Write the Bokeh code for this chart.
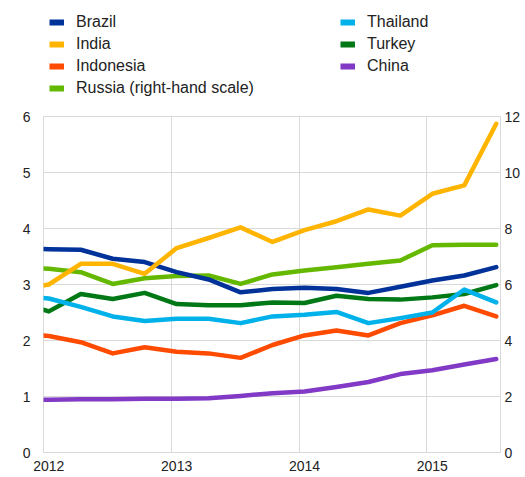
from bokeh.plotting import figure
from bokeh.layouts import column
from bokeh.models import (Range1d, LinearAxis, FixedTicker, NumeralTickFormatter,
                          Legend, LegendItem)
from bokeh.embed import file_html
from bokeh.resources import INLINE

# ---- data (quarterly observations, mid-month of first month of quarter) ----
months = ["2011-10",
          "2012-01", "2012-04", "2012-07", "2012-10",
          "2013-01", "2013-04", "2013-07", "2013-10",
          "2014-01", "2014-04", "2014-07", "2014-10",
          "2015-01", "2015-04", "2015-07"]

brazil    = [3.64, 3.63, 3.62, 3.46, 3.40, 3.22, 3.09, 2.86, 2.92, 2.94, 2.92, 2.85, 2.96, 3.07, 3.16, 3.31]
india     = [2.90, 3.00, 3.37, 3.37, 3.19, 3.65, 3.83, 4.02, 3.76, 3.97, 4.13, 4.34, 4.23, 4.62, 4.77, 5.87]
indonesia = [2.12, 2.08, 1.97, 1.77, 1.88, 1.80, 1.77, 1.69, 1.92, 2.09, 2.18, 2.09, 2.31, 2.45, 2.62, 2.43]
russia    = [6.60, 6.56, 6.44, 6.02, 6.22, 6.30, 6.32, 6.02, 6.36, 6.50, 6.62, 6.74, 6.86, 7.40, 7.42, 7.42]  # right-hand scale
thailand  = [2.80, 2.75, 2.60, 2.43, 2.35, 2.39, 2.39, 2.31, 2.43, 2.46, 2.51, 2.31, 2.40, 2.50, 2.91, 2.68]
turkey    = [2.70, 2.52, 2.83, 2.74, 2.85, 2.65, 2.63, 2.63, 2.68, 2.67, 2.80, 2.74, 2.73, 2.77, 2.83, 2.99]
china     = [0.94, 0.94, 0.95, 0.95, 0.96, 0.96, 0.97, 1.01, 1.06, 1.09, 1.17, 1.26, 1.40, 1.47, 1.57, 1.67]

series_names = ["Brazil", "India", "Indonesia", "Russia (right-hand scale)",
                "Thailand", "Turkey", "China"]
colors = {"Brazil": "#003299", "India": "#FFB400", "Indonesia": "#FF4B00",
          "Russia (right-hand scale)": "#65B800", "Thailand": "#00B1EA",
          "Turkey": "#007816", "China": "#8139C6"}
values = {"Brazil": brazil, "India": india, "Indonesia": indonesia,
          "Russia (right-hand scale)": russia, "Thailand": thailand,
          "Turkey": turkey, "China": china}

year_labels = [2012, 2013, 2014, 2015]
left_ticks = [0, 1, 2, 3, 4, 5, 6]
right_ticks = [0, 2, 4, 6, 8, 10, 12]

x = [int(m[:4]) + (int(m[5:]) - 0.5) / 12 for m in months]

FONT = "Liberation Sans"
TXT = "#222222"

# ---------------- main chart ----------------
p = figure(width=525, height=371, output_backend="svg", toolbar_location=None,
           x_range=Range1d(2012.0, 2015.575), y_range=Range1d(0, 6),
           min_border_left=43, min_border_right=25, min_border_top=10,
           min_border_bottom=25)
p.extra_y_ranges = {"right": Range1d(0, 12)}
p.outline_line_color = "#d9d9d9"
p.outline_line_width = 1

p.xgrid.ticker = FixedTicker(ticks=year_labels)
p.xgrid.grid_line_color = "#d9d9d9"
p.ygrid.grid_line_color = "#d9d9d9"

xa = p.xaxis[0]
xa.ticker = FixedTicker(ticks=[y + 0.5 / 12 for y in year_labels])
xa.formatter = NumeralTickFormatter(format="0")
ya = p.yaxis[0]
ya.ticker = FixedTicker(ticks=left_ticks)

ra = LinearAxis(y_range_name="right", ticker=FixedTicker(ticks=right_ticks))
p.add_layout(ra, "right")

for ax, standoff in ((xa, 8), (ya, 13), (ra, 4)):
    ax.axis_line_color = None
    ax.major_tick_line_color = None
    ax.minor_tick_line_color = None
    ax.major_tick_in = 0
    ax.major_tick_out = 0
    ax.major_label_text_font = FONT
    ax.major_label_text_font_size = "14px"
    ax.major_label_text_color = TXT
    ax.major_label_standoff = standoff

kw = dict(line_width=4.5, line_join="round", line_cap="round")
draw_order = ["Russia (right-hand scale)", "China", "Indonesia", "Turkey",
              "Thailand", "Brazil", "India"]
for name in draw_order:
    extra = {"y_range_name": "right"} if name.startswith("Russia") else {}
    p.line(x, values[name], color=colors[name], **kw, **extra)

# ---------------- legend strip (its frame is aligned with the chart's) ----------------
lg = figure(width=525, height=106, output_backend="svg", toolbar_location=None,
            x_range=Range1d(0, 1), y_range=Range1d(0, 1),
            min_border_left=43, min_border_right=25,
            min_border_top=0, min_border_bottom=0)
lg.axis.visible = False
lg.grid.visible = False
lg.outline_line_color = None

items = []
for name in series_names:
    # same series, drawn far outside this strip's ranges: only its legend swatch shows
    r = lg.line(x, values[name], color=colors[name], line_width=6, line_cap="butt")
    items.append(LegendItem(label=name, renderers=[r]))

legend = Legend(items=items, location=(6, 8), orientation="vertical", nrows=4,
                glyph_width=15, glyph_height=20, label_height=20, label_width=262,
                label_standoff=12, spacing=2, padding=0, margin=0,
                border_line_alpha=0, background_fill_alpha=0,
                label_text_font=FONT, label_text_font_size="16px",
                label_text_color=TXT)
lg.add_layout(legend, "center")

layout = column(lg, p, spacing=0)
open("out.html", "w").write(file_html(layout, INLINE))
